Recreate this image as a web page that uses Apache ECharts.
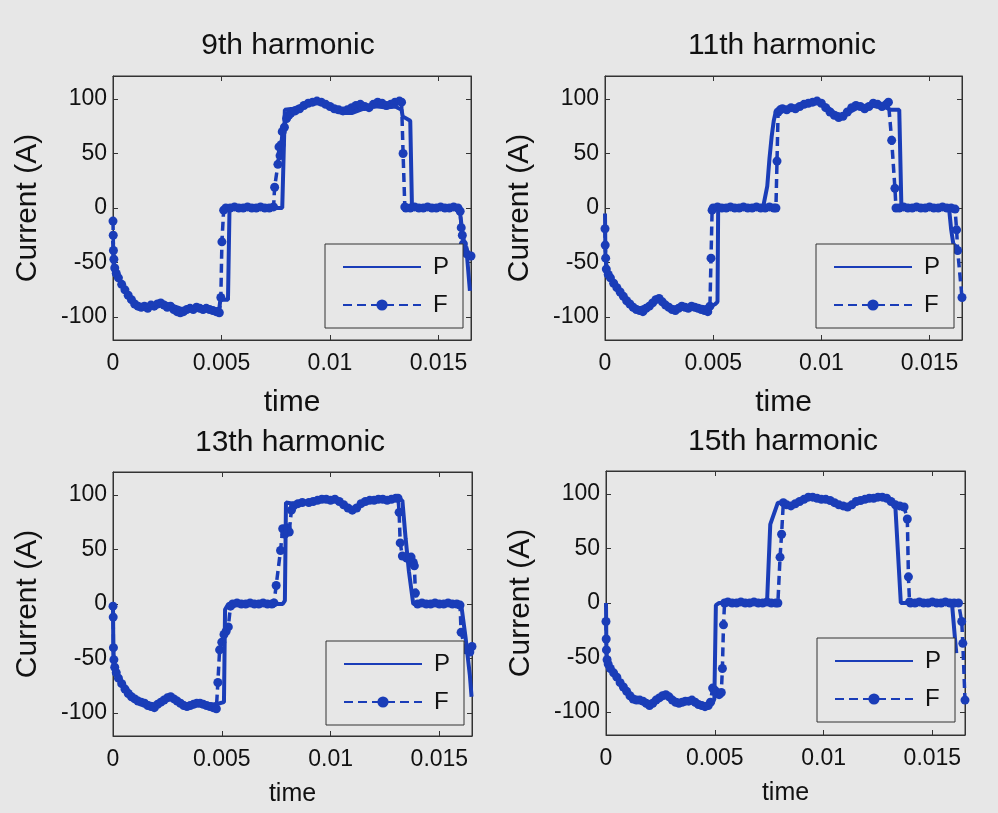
<!DOCTYPE html>
<html>
<head>
<meta charset="utf-8">
<script src="https://cdn.jsdelivr.net/npm/echarts@6/dist/echarts.min.js"></script>
<style>
  html, body { margin: 0; padding: 0; background: #e7e7e7; }
  #main { width: 998px; height: 813px; }
</style>
</head>
<body>
<div id="main"></div>
<script>
const titles = ["9th harmonic", "11th harmonic", "13th harmonic", "15th harmonic"];
const xTicks = [0, 0.005, 0.01, 0.015];
const yTicks = [-100, -50, 0, 50, 100];

// P = solid line, F = dashed line with dots, [time, current]
const p9 = [[0,-30],[0.00003,-52],[0.0001,-58],[0.0003,-66],[0.0005,-73],[0.0007,-80],[0.0009,-85],[0.0011,-89],[0.0013,-91],[0.0016,-90],[0.0019,-88],[0.0022,-86],[0.0025,-88],[0.0028,-90],[0.0031,-92],[0.0034,-93],[0.0037,-92],[0.004,-91],[0.0043,-93],[0.0046,-94],[0.0049,-92],[0.00495,-84],[0.0053,-84],[0.00537,0],[0.0078,0],[0.00785,1],[0.00792,90],[0.0083,91],[0.0086,93],[0.009,95],[0.0094,97],[0.0098,94],[0.0102,89],[0.0106,87],[0.011,87],[0.0114,90],[0.0118,93],[0.0122,93],[0.0126,92],[0.013,93],[0.0133,90],[0.01335,84],[0.0137,80],[0.01378,0],[0.0159,0],[0.016,-5],[0.0161,-22],[0.0162,-33],[0.0163,-40],[0.01645,-76]];
const f9 = [[0,-12],[0.00001,-25],[0.00002,-39],[0.00004,-47],[0.00008,-55],[0.00015,-60],[0.00025,-64],[0.0004,-70],[0.00055,-75],[0.0007,-80],[0.00085,-84],[0.001,-88],[0.00115,-90],[0.0013,-91],[0.00145,-90],[0.0016,-92],[0.00175,-89],[0.0019,-90],[0.00205,-88],[0.0022,-87],[0.00235,-89],[0.0025,-91],[0.00265,-90],[0.0028,-93],[0.00295,-95],[0.0031,-96],[0.00325,-95],[0.0034,-93],[0.00355,-92],[0.0037,-93],[0.00385,-91],[0.004,-92],[0.00415,-93],[0.0043,-92],[0.00445,-93],[0.0046,-94],[0.00475,-95],[0.0049,-96],[0.00497,-82],[0.00502,-31],[0.0051,-2],[0.0052,0],[0.0054,0],[0.0056,1],[0.0058,0],[0.006,0],[0.0062,1],[0.0064,0],[0.0066,0],[0.0068,1],[0.007,0],[0.0072,0],[0.0074,1],[0.00745,19],[0.0076,40],[0.00765,56],[0.0077,48],[0.00775,58],[0.0078,70],[0.0079,74],[0.008,82],[0.0081,85],[0.0082,87],[0.0084,89],[0.0086,91],[0.0088,94],[0.009,96],[0.0092,97],[0.0094,98],[0.0096,97],[0.0098,95],[0.01,93],[0.0102,91],[0.0104,90],[0.0106,89],[0.0108,90],[0.011,92],[0.0112,94],[0.0114,95],[0.0116,93],[0.0118,92],[0.012,95],[0.0122,97],[0.0124,96],[0.0126,94],[0.0128,95],[0.013,97],[0.0132,98],[0.0133,97],[0.01337,50],[0.01345,1],[0.0135,0],[0.0137,0],[0.0139,1],[0.0141,0],[0.0143,0],[0.0145,1],[0.0147,0],[0.0149,0],[0.0151,1],[0.0153,0],[0.0155,0],[0.0157,1],[0.0159,0],[0.016,-3],[0.01605,-18],[0.0161,-25],[0.01615,-33],[0.0162,-38],[0.0163,-42],[0.0165,-44]];

const p11 = [[0,-5],[0.00002,-45],[0.0001,-58],[0.0003,-64],[0.0005,-70],[0.0007,-76],[0.0009,-82],[0.0011,-87],[0.0013,-90],[0.0016,-92],[0.0019,-90],[0.0022,-86],[0.0025,-85],[0.0028,-88],[0.0031,-91],[0.0034,-91],[0.0037,-90],[0.004,-91],[0.0043,-90],[0.0046,-91],[0.0049,-90],[0.0051,-88],[0.0052,-86],[0.00523,0],[0.0073,0],[0.0075,20],[0.0076,45],[0.0077,65],[0.0078,80],[0.0079,89],[0.0082,90],[0.0086,92],[0.009,94],[0.0094,96],[0.0098,97],[0.0102,94],[0.0106,87],[0.011,85],[0.0114,89],[0.0118,93],[0.0122,94],[0.0126,93],[0.013,92],[0.0132,90],[0.0136,90],[0.0137,0],[0.0159,0],[0.016,-20],[0.0161,-33],[0.0162,-35],[0.0163,-40]];
const f11 = [[0,-19],[0.00001,-34],[0.00003,-46],[0.00006,-56],[0.00015,-61],[0.00025,-64],[0.0004,-69],[0.00055,-73],[0.0007,-77],[0.00085,-81],[0.001,-85],[0.00115,-88],[0.0013,-91],[0.00145,-93],[0.0016,-94],[0.00175,-95],[0.0019,-92],[0.00205,-90],[0.0022,-87],[0.00235,-84],[0.0025,-83],[0.00265,-86],[0.0028,-89],[0.00295,-91],[0.0031,-93],[0.00325,-94],[0.0034,-92],[0.00355,-90],[0.0037,-91],[0.00385,-92],[0.004,-90],[0.00415,-91],[0.0043,-92],[0.00445,-93],[0.0046,-94],[0.00475,-95],[0.00485,-90],[0.0049,-46],[0.00495,-2],[0.005,0],[0.0052,1],[0.0054,0],[0.0056,0],[0.0058,1],[0.006,0],[0.0062,0],[0.0064,1],[0.0066,0],[0.0068,0],[0.007,1],[0.0072,0],[0.0074,0],[0.0076,1],[0.0078,0],[0.0079,0],[0.00795,43],[0.008,88],[0.0081,90],[0.0082,91],[0.0084,90],[0.0086,92],[0.0088,91],[0.009,93],[0.0092,95],[0.0094,96],[0.0096,97],[0.0098,98],[0.01,96],[0.0102,92],[0.0104,88],[0.0106,85],[0.0108,83],[0.011,84],[0.0112,88],[0.0114,92],[0.0116,94],[0.0118,93],[0.012,91],[0.0122,93],[0.0124,96],[0.0126,95],[0.0128,93],[0.013,95],[0.0131,97],[0.01325,62],[0.0134,18],[0.01345,0],[0.0136,0],[0.0138,1],[0.014,0],[0.0142,0],[0.0144,1],[0.0146,0],[0.0148,0],[0.015,1],[0.0152,0],[0.0154,0],[0.0156,1],[0.0158,0],[0.016,0],[0.01618,-1],[0.01625,-20],[0.0163,-39],[0.0165,-82]];

const p13 = [[0,0],[0.00002,-55],[0.0001,-62],[0.0003,-68],[0.0005,-74],[0.0007,-79],[0.0009,-84],[0.0011,-87],[0.0013,-89],[0.0016,-91],[0.0019,-92],[0.0022,-89],[0.0025,-86],[0.0028,-87],[0.0031,-90],[0.0034,-92],[0.0037,-92],[0.004,-91],[0.0043,-92],[0.0046,-92],[0.0049,-91],[0.0051,-90],[0.00515,-5],[0.0053,0],[0.0078,0],[0.0079,3],[0.00795,93],[0.0083,92],[0.0087,93],[0.009,94],[0.0094,95],[0.0098,96],[0.0102,95],[0.0106,91],[0.011,88],[0.0114,91],[0.0118,94],[0.0122,95],[0.0126,95],[0.013,96],[0.0133,95],[0.01345,60],[0.0136,30],[0.0138,0],[0.016,0],[0.0162,-30],[0.0164,-65],[0.01648,-85]];
const f13 = [[0,-2],[0.00001,-12],[0.00002,-40],[0.00004,-51],[0.00008,-58],[0.00015,-63],[0.00025,-68],[0.0004,-73],[0.00055,-78],[0.0007,-82],[0.00085,-85],[0.001,-87],[0.00115,-89],[0.0013,-90],[0.00145,-91],[0.0016,-93],[0.00175,-94],[0.0019,-95],[0.00205,-92],[0.0022,-90],[0.00235,-88],[0.0025,-86],[0.00265,-85],[0.0028,-87],[0.00295,-89],[0.0031,-91],[0.00325,-93],[0.0034,-94],[0.00355,-93],[0.0037,-92],[0.00385,-91],[0.004,-91],[0.00415,-92],[0.0043,-93],[0.00445,-94],[0.0046,-95],[0.00475,-96],[0.00482,-72],[0.0049,-42],[0.005,-35],[0.0051,-28],[0.0052,-25],[0.0053,-21],[0.0054,-2],[0.0055,0],[0.0057,1],[0.0059,0],[0.0061,0],[0.0063,1],[0.0065,0],[0.0067,0],[0.0069,1],[0.0071,0],[0.0073,0],[0.0074,1],[0.0075,17],[0.0077,49],[0.0078,69],[0.0079,64],[0.008,70],[0.0081,66],[0.0082,86],[0.0083,90],[0.0085,92],[0.0087,93],[0.009,93],[0.0092,94],[0.0094,95],[0.0096,96],[0.0098,96],[0.01,95],[0.0102,96],[0.0104,94],[0.0106,91],[0.0108,88],[0.011,86],[0.0112,88],[0.0114,92],[0.0116,94],[0.0118,95],[0.012,95],[0.0122,96],[0.0124,96],[0.0126,95],[0.0128,96],[0.013,97],[0.0131,97],[0.01315,84],[0.0132,56],[0.0133,44],[0.0135,42],[0.0137,43],[0.0138,38],[0.01385,35],[0.0139,10],[0.014,0],[0.0142,1],[0.0144,0],[0.0146,0],[0.0148,1],[0.015,0],[0.0152,0],[0.0154,1],[0.0156,0],[0.0158,0],[0.01595,-1],[0.016,-26],[0.0162,-42],[0.0164,-44],[0.0165,-39]];

const p15 = [[0,0],[0.00002,-48],[0.0001,-55],[0.0003,-62],[0.0005,-67],[0.0007,-74],[0.0009,-80],[0.0011,-85],[0.0013,-88],[0.0016,-89],[0.0019,-91],[0.0022,-90],[0.0025,-86],[0.0028,-85],[0.0031,-88],[0.0034,-90],[0.0037,-89],[0.004,-90],[0.0043,-92],[0.0046,-93],[0.0049,-92],[0.00498,-88],[0.00505,-2],[0.0052,0],[0.0074,0],[0.00755,72],[0.0079,92],[0.008,92],[0.0084,90],[0.0088,92],[0.0092,95],[0.0096,96],[0.01,95],[0.0104,93],[0.0108,89],[0.0112,89],[0.0116,93],[0.012,95],[0.0124,96],[0.0128,96],[0.0131,93],[0.0133,88],[0.01355,0],[0.0159,0],[0.01605,-35],[0.0161,-46]];
const f15 = [[0,-17],[0.00001,-33],[0.00002,-43],[0.00005,-52],[0.0001,-56],[0.0002,-60],[0.00035,-64],[0.0005,-68],[0.00065,-73],[0.0008,-77],[0.00095,-81],[0.0011,-85],[0.00125,-88],[0.0014,-89],[0.00155,-89],[0.0017,-90],[0.00185,-92],[0.002,-94],[0.00215,-92],[0.0023,-89],[0.00245,-87],[0.0026,-85],[0.00275,-84],[0.0029,-86],[0.00305,-89],[0.0032,-91],[0.00335,-92],[0.0035,-91],[0.00365,-90],[0.0038,-90],[0.00395,-89],[0.0041,-91],[0.00425,-93],[0.0044,-94],[0.00455,-95],[0.0047,-94],[0.0048,-91],[0.0049,-78],[0.005,-80],[0.0051,-82],[0.0052,-84],[0.0053,-82],[0.00535,-60],[0.0054,-20],[0.00545,0],[0.0056,1],[0.0058,0],[0.006,0],[0.0062,1],[0.0064,0],[0.0066,0],[0.0068,1],[0.007,0],[0.0072,0],[0.0074,1],[0.0076,0],[0.0078,0],[0.0079,0],[0.008,42],[0.00807,63],[0.00815,92],[0.0083,90],[0.0085,89],[0.0087,91],[0.0089,93],[0.0091,95],[0.0093,97],[0.0095,97],[0.0097,96],[0.0099,95],[0.0101,95],[0.0103,94],[0.0105,92],[0.0107,90],[0.0109,89],[0.0111,88],[0.0113,90],[0.0115,93],[0.0117,94],[0.0119,95],[0.0121,96],[0.0123,96],[0.0125,97],[0.0127,97],[0.0129,96],[0.0131,93],[0.0133,90],[0.0135,89],[0.0137,88],[0.01385,77],[0.0139,24],[0.01395,1],[0.014,0],[0.0142,0],[0.0144,1],[0.0146,0],[0.0148,0],[0.015,1],[0.0152,0],[0.0154,0],[0.0156,1],[0.0158,0],[0.016,0],[0.0162,0],[0.01635,-17],[0.0164,-37],[0.0165,-89]];

const blue = "#1a3db8";
const ink = "#111";
const font = "'Liberation Sans', Arial, sans-serif";

const panels = [
  { p: p9,  f: f9,  grid: { left: 113, top: 76,  width: 358, height: 264 }, tx: 288, ty: 31,  lg: { left: 325, top: 244 }, xn: 30, xg: 48 },
  { p: p11, f: f11, grid: { left: 605, top: 76,  width: 357, height: 264 }, tx: 782, ty: 31,  lg: { left: 816, top: 244 }, xn: 30, xg: 48 },
  { p: p13, f: f13, grid: { left: 113, top: 472, width: 359, height: 264 }, tx: 290, ty: 428, lg: { left: 326, top: 641 }, xn: 25, xg: 46 },
  { p: p15, f: f15, grid: { left: 606, top: 471, width: 359, height: 264 }, tx: 783, ty: 427, lg: { left: 817, top: 638 }, xn: 25, xg: 46 }
];

const axisLineStyle = { show: true, onZero: false, lineStyle: { color: "#333", width: 1 } };
const tick = { show: true, inside: true, length: 5, lineStyle: { color: "#333" } };

const option = {
  animation: false,
  backgroundColor: "#e7e7e7",
  textStyle: { fontFamily: font },
  title: [], grid: [], xAxis: [], yAxis: [], legend: [], series: []
};

panels.forEach((pn, i) => {
  option.title.push({
    text: titles[i], left: pn.tx, top: pn.ty, textAlign: "center", padding: 0,
    textStyle: { fontSize: 30, fontWeight: "normal", color: ink, fontFamily: font }
  });
  option.grid.push(Object.assign({ show: true, borderColor: "#333", borderWidth: 1, backgroundColor: "transparent" }, pn.grid));

  const xb = {
    type: "value", gridIndex: i, min: 0, max: 0.0165, position: "bottom",
    axisLine: axisLineStyle, splitLine: { show: false },
    axisTick: Object.assign({ customValues: xTicks }, tick),
    axisLabel: { customValues: xTicks, fontSize: 23, color: ink, margin: 12, fontFamily: font },
    name: "time", nameLocation: "middle", nameGap: pn.xg,
    nameTextStyle: { fontSize: pn.xn, color: ink, fontFamily: font }
  };
  const xt = {
    type: "value", gridIndex: i, min: 0, max: 0.0165, position: "top",
    axisLine: axisLineStyle, splitLine: { show: false },
    axisTick: Object.assign({ customValues: xTicks }, tick),
    axisLabel: { show: false }
  };
  const yl = {
    type: "value", gridIndex: i, min: -121, max: 121, position: "left",
    axisLine: axisLineStyle, splitLine: { show: false },
    axisTick: Object.assign({ customValues: yTicks }, tick),
    axisLabel: { customValues: yTicks, fontSize: 23, color: ink, margin: 6, fontFamily: font },
    name: "Current (A)", nameLocation: "middle", nameGap: 70,
    nameTextStyle: { fontSize: 30, color: ink, fontFamily: font }
  };
  const yr = {
    type: "value", gridIndex: i, min: -121, max: 121, position: "right",
    axisLine: axisLineStyle, splitLine: { show: false },
    axisTick: Object.assign({ customValues: yTicks }, tick),
    axisLabel: { show: false }
  };
  option.xAxis.push(xb, xt);
  option.yAxis.push(yl, yr);

  option.legend.push({
    left: pn.lg.left, top: pn.lg.top, orient: "vertical",
    data: [{ name: "P", itemStyle: { opacity: 0 } }, "F"], selectedMode: false,
    backgroundColor: "#e7e7e7", borderColor: "#333", borderWidth: 1,
    padding: [11, 14, 11, 17], itemWidth: 78, itemHeight: 14, itemGap: 14,
    textStyle: { fontSize: 24, color: ink, fontFamily: font, padding: [0, 0, 0, 7] },
    z: 10
  });

  option.series.push({
    name: "P", type: "line", xAxisIndex: i * 2, yAxisIndex: i * 2,
    data: pn.p, symbol: "none", z: 3,
    lineStyle: { color: blue, width: 4 }, itemStyle: { color: blue }
  });
  option.series.push({
    name: "F", type: "line", xAxisIndex: i * 2, yAxisIndex: i * 2,
    data: pn.f, symbol: "circle", symbolSize: 9, z: 2,
    lineStyle: { color: blue, width: 3.5, type: [9, 5] }, itemStyle: { color: blue }
  });
});

const chart = echarts.init(document.getElementById("main"));
chart.setOption(option);
</script>
</body>
</html>
